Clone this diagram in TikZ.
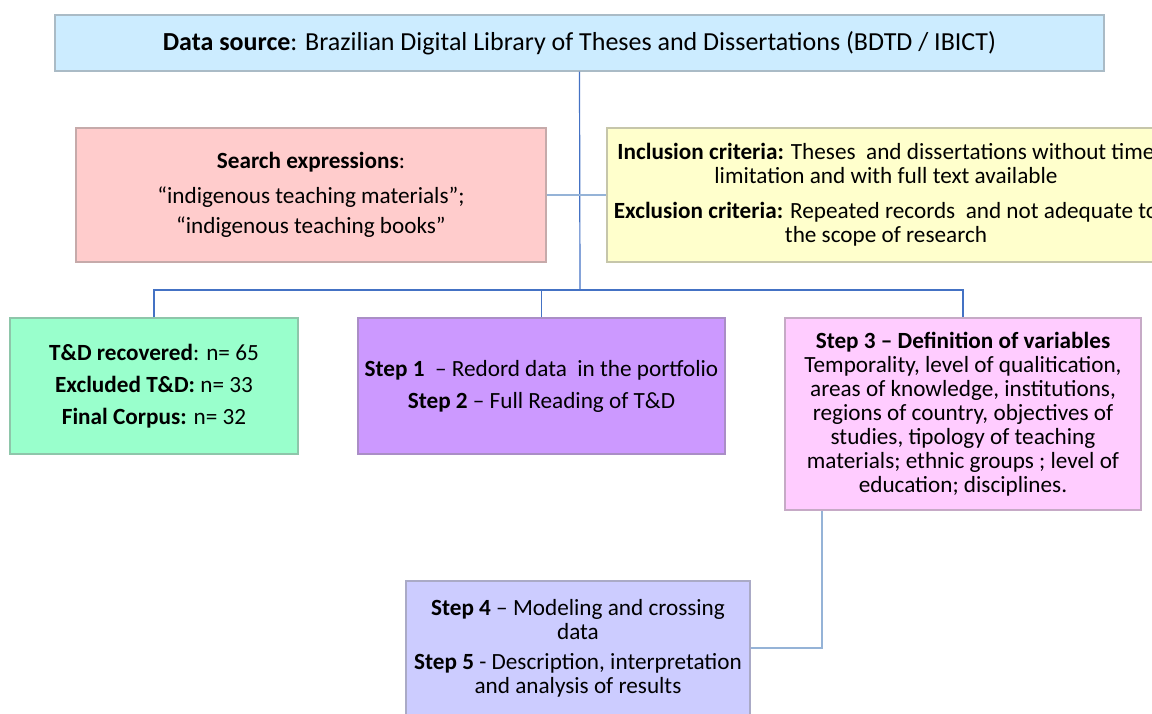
\documentclass[tikz,border=0pt]{standalone}
\usepackage{fontspec}
\setmainfont{Carlito}

\tikzset{
  box/.style={draw=#1!55!gray, fill=#1, line width=0.7pt, align=center, inner sep=0pt,
    font=\fontsize{11.6}{12}\selectfont},
  link/.style={draw=linkblue, line width=0.6pt},
  softlink/.style={draw=softblue, line width=1pt}
}

\begin{document}
\begin{tikzpicture}[x=0.5pt, y=-0.5pt]

% Colors
\definecolor{srcfill}{RGB}{204,236,255}
\definecolor{searchfill}{RGB}{255,204,204}
\definecolor{critfill}{RGB}{255,255,204}
\definecolor{tdfill}{RGB}{153,255,204}
\definecolor{stepfill}{RGB}{204,153,255}
\definecolor{varfill}{RGB}{255,204,255}
\definecolor{modelfill}{RGB}{204,204,255}
\definecolor{linkblue}{RGB}{68,114,196}
\definecolor{softblue}{RGB}{149,179,215}

% Canvas
\useasboundingbox (0,0) rectangle (1152,713);

% Data source
\node[box=srcfill, minimum width=524.5pt, minimum height=28pt, font=\fontsize{13}{14}\selectfont] (src) at (579.5,43)
  {\textbf{Data source}: Brazilian Digital Library of Theses and Dissertations (BDTD / IBICT)};

% Search and criteria
\node[box=searchfill, minimum width=235pt, minimum height=67pt] (searchbox) at (311,195)
  {\textbf{Search expressions}:\\[5.5pt]
   “indigenous teaching materials”;\\[3pt]
   “indigenous teaching books”};
\node[box=critfill, minimum width=279pt, minimum height=67pt] (critbox) at (886,195)
  {\textbf{Inclusion criteria:} Theses \ and dissertations without time\\
   limitation and with full text available\\[5.5pt]
   \textbf{Exclusion criteria:} Repeated records \ and not adequate to\\
   the scope of research};

% Second row
\node[box=tdfill, minimum width=144pt, minimum height=68pt] (tdbox) at (154,386)
  {\textbf{T\&D recovered}: n= 65\\[4pt]
   \textbf{Excluded T\&D:} n= 33\\[4pt]
   \textbf{Final Corpus:} n= 32};
\node[box=stepfill, minimum width=183.5pt, minimum height=68pt] (stepbox) at (541.5,386)
  {\textbf{Step 1} \ – Redord data \ in the portfolio\\[4pt]
   \textbf{Step 2} – Full Reading of T\&D};
\node[box=varfill, minimum width=178pt, minimum height=96pt] (varbox) at (963,414)
  {\textbf{Step 3 – Definition of variables}\\
   Temporality, level of qualitication,\\
   areas of knowledge, institutions,\\
   regions of country, objectives of\\
   studies, tipology of teaching\\
   materials; ethnic groups ; level of\\
   education; disciplines.};

% Last step
\node[box=modelfill, minimum width=172pt, minimum height=67pt] (modelbox) at (578,648)
  {\textbf{Step 4} – Modeling and crossing\\
   data\\[3pt]
   \textbf{Step 5} - Description, interpretation\\
   and analysis of results};

% Connectors
\coordinate (bus) at (580,290);
\coordinate (bend) at (822,648);
\draw[link] (src.south) -- (bus);
\draw[link] (tdbox.north) -- (tdbox.north |- bus) -- (varbox.north |- bus) -- (varbox.north);
\draw[link] (stepbox.north) -- (stepbox.north |- bus);
\draw[softlink] (searchbox.east) -- (critbox.west);
\draw[softlink] (varbox.south -| bend) -- (bend) -- (modelbox.east |- bend);
\end{tikzpicture}
\end{document}
